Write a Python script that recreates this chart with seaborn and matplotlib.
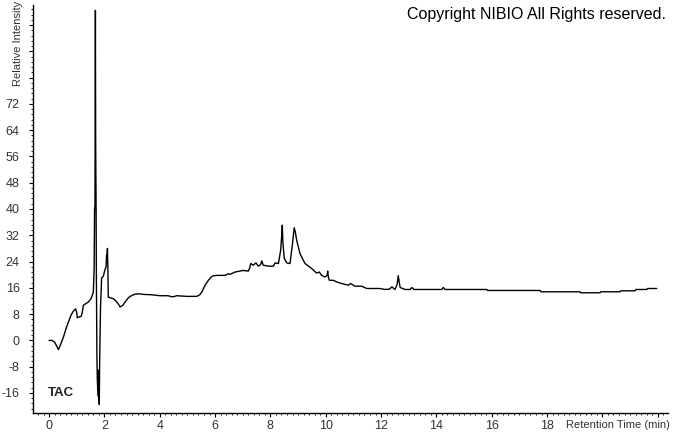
import matplotlib
matplotlib.use("Agg")
import matplotlib.pyplot as plt
from matplotlib.ticker import FixedLocator, MultipleLocator, FuncFormatter
import seaborn as sns

# ── Data ───────────────────────────────────────────────────────────────────────
rt_min = [
    0.00, 0.10, 0.20, 0.34, 0.43, 0.52, 0.61, 0.70, 0.80, 0.88,
    0.96, 1.00, 1.02, 1.10, 1.16, 1.20, 1.24, 1.33, 1.42, 1.50,
    1.54, 1.60, 1.63, 1.645, 1.66, 1.675, 1.685, 1.70, 1.71, 1.73,
    1.745, 1.76, 1.77, 1.78, 1.79, 1.80, 1.815, 1.83, 1.86, 1.90,
    1.96, 2.02, 2.06, 2.08, 2.09, 2.11, 2.13, 2.14, 2.20, 2.32,
    2.45, 2.57, 2.66, 2.75, 2.85, 2.93, 3.08, 3.23, 3.41, 3.70,
    4.01, 4.30, 4.43, 4.50, 4.61, 4.80, 4.98, 5.34, 5.45, 5.52,
    5.62, 5.70, 5.76, 5.85, 5.94, 6.10, 6.36, 6.48, 6.54, 6.72,
    6.90, 7.02, 7.20, 7.25, 7.29, 7.38, 7.48, 7.56, 7.64, 7.69,
    7.74, 7.93, 8.11, 8.17, 8.29, 8.37, 8.41, 8.43, 8.45, 8.50,
    8.59, 8.71, 8.80, 8.86, 8.90, 8.95, 9.07, 9.25, 9.49, 9.67,
    9.77, 9.85, 9.97, 10.05, 10.07, 10.10, 10.13, 10.27, 10.40, 10.58,
    10.82, 10.90, 11.06, 11.30, 11.48, 11.96, 12.14, 12.30, 12.39, 12.50,
    12.58, 12.62, 12.66, 12.69, 12.87, 13.05, 13.11, 13.19, 14.19, 14.25,
    14.31, 15.82, 15.85, 17.75, 17.78, 19.19, 19.22, 19.91, 19.94, 20.64,
    20.67, 21.18, 21.21, 21.60, 21.63, 21.96,
]
intensity = [
    0.0, 0.0, -0.5, -2.8, -1.0, 1.0, 3.5, 5.6, 7.8, 8.9,
    9.6, 8.5, 6.9, 7.2, 7.3, 8.5, 10.7, 11.2, 11.7, 12.5,
    13.2, 14.7, 22.0, 40.0, 41.0, 100.5, 60.0, 41.0, 20.0, -5.0,
    -12.0, -15.0, -9.0, -17.0, -11.0, -16.0, -19.5, -6.0, 10.0, 19.0,
    19.5, 21.5, 22.4, 26.0, 24.5, 28.0, 20.0, 13.2, 13.0, 12.7,
    11.7, 10.2, 10.6, 11.7, 12.8, 13.4, 14.0, 14.2, 14.0, 13.9,
    13.6, 13.6, 13.3, 13.3, 13.6, 13.5, 13.4, 13.4, 13.9, 14.7,
    16.5, 17.6, 18.3, 19.2, 19.7, 19.8, 19.8, 20.3, 20.1, 20.8,
    21.1, 21.3, 21.1, 22.0, 23.4, 22.9, 23.6, 22.6, 23.0, 24.2,
    22.9, 22.6, 22.6, 23.6, 23.4, 27.4, 32.0, 35.1, 30.0, 25.0,
    23.6, 23.4, 29.5, 34.3, 33.0, 30.5, 26.4, 23.4, 21.9, 20.5,
    20.8, 19.8, 19.3, 19.8, 21.1, 19.0, 18.3, 18.3, 17.8, 17.3,
    16.8, 17.3, 16.5, 16.5, 15.8, 15.8, 15.5, 15.6, 16.3, 15.5,
    17.0, 19.7, 17.5, 16.1, 15.5, 15.5, 16.1, 15.5, 15.5, 16.1,
    15.5, 15.5, 15.2, 15.2, 14.8, 14.8, 14.5, 14.5, 14.8, 14.8,
    15.1, 15.1, 15.5, 15.5, 15.8, 15.8,
]

y_major = list(range(-16, 104, 8))
x_major = list(range(0, 24, 2))

# ── Style ──────────────────────────────────────────────────────────────────────
sns.set_theme(style="ticks")
plt.rcParams["font.family"] = ["Liberation Sans", "DejaVu Sans"]

fig = plt.figure(figsize=(6.73, 4.33), dpi=100)
W, H = 673, 433
ax = fig.add_axes([33 / W, 20 / H, (668 - 33) / W, (413 - 5) / H])

sns.lineplot(x=rt_min, y=intensity, color="black", linewidth=1.0,
             sort=False, estimator=None, ax=ax)

ax.set_xlim(-0.58, 22.37)
ax.set_ylim(-22.1, 102.1)
ax.set_xlabel("")
ax.set_ylabel("")

for s in ("top", "right"):
    ax.spines[s].set_visible(False)
for s in ("left", "bottom"):
    ax.spines[s].set_color("black")
    ax.spines[s].set_linewidth(1.0)

ax.yaxis.set_major_locator(FixedLocator(y_major))
ax.yaxis.set_major_formatter(FuncFormatter(lambda v, p: f"{int(v)}" if v <= 72 else ""))
ax.yaxis.set_minor_locator(MultipleLocator(1.6))
ax.xaxis.set_major_locator(FixedLocator(x_major))
ax.xaxis.set_major_formatter(FuncFormatter(lambda v, p: f"{int(v)}" if v <= 18 else ""))
ax.xaxis.set_minor_locator(MultipleLocator(0.2))

ax.tick_params(axis="both", which="major", direction="out", length=3, width=0.8,
               color="black", labelsize=9, labelcolor="#333333")
ax.tick_params(axis="both", which="minor", direction="out", length=1.6, width=0.6,
               color="black")
ax.tick_params(axis="y", which="major", pad=6.5)
ax.tick_params(axis="x", which="major", pad=2)

# ── Annotations ────────────────────────────────────────────────────────────────
fig.text(670 / W, (433 - 425) / H, "Retention Time (min)", ha="right", va="center",
         fontsize=8, color="#333333")
fig.text(18 / W, 1 - 1 / H, "Relative Intensity", rotation=90, ha="center",
         va="top", fontsize=8, color="#333333")
fig.text(48 / W, (433 - 393) / H, "TAC", ha="left", va="center",
         fontsize=9.5, fontweight="bold", color="#222222")
fig.text(666 / W, (433 - 15) / H, "Copyright NIBIO All Rights reserved.",
         ha="right", va="center", fontsize=11.5, color="black")

fig.savefig("out.png", dpi=100)
